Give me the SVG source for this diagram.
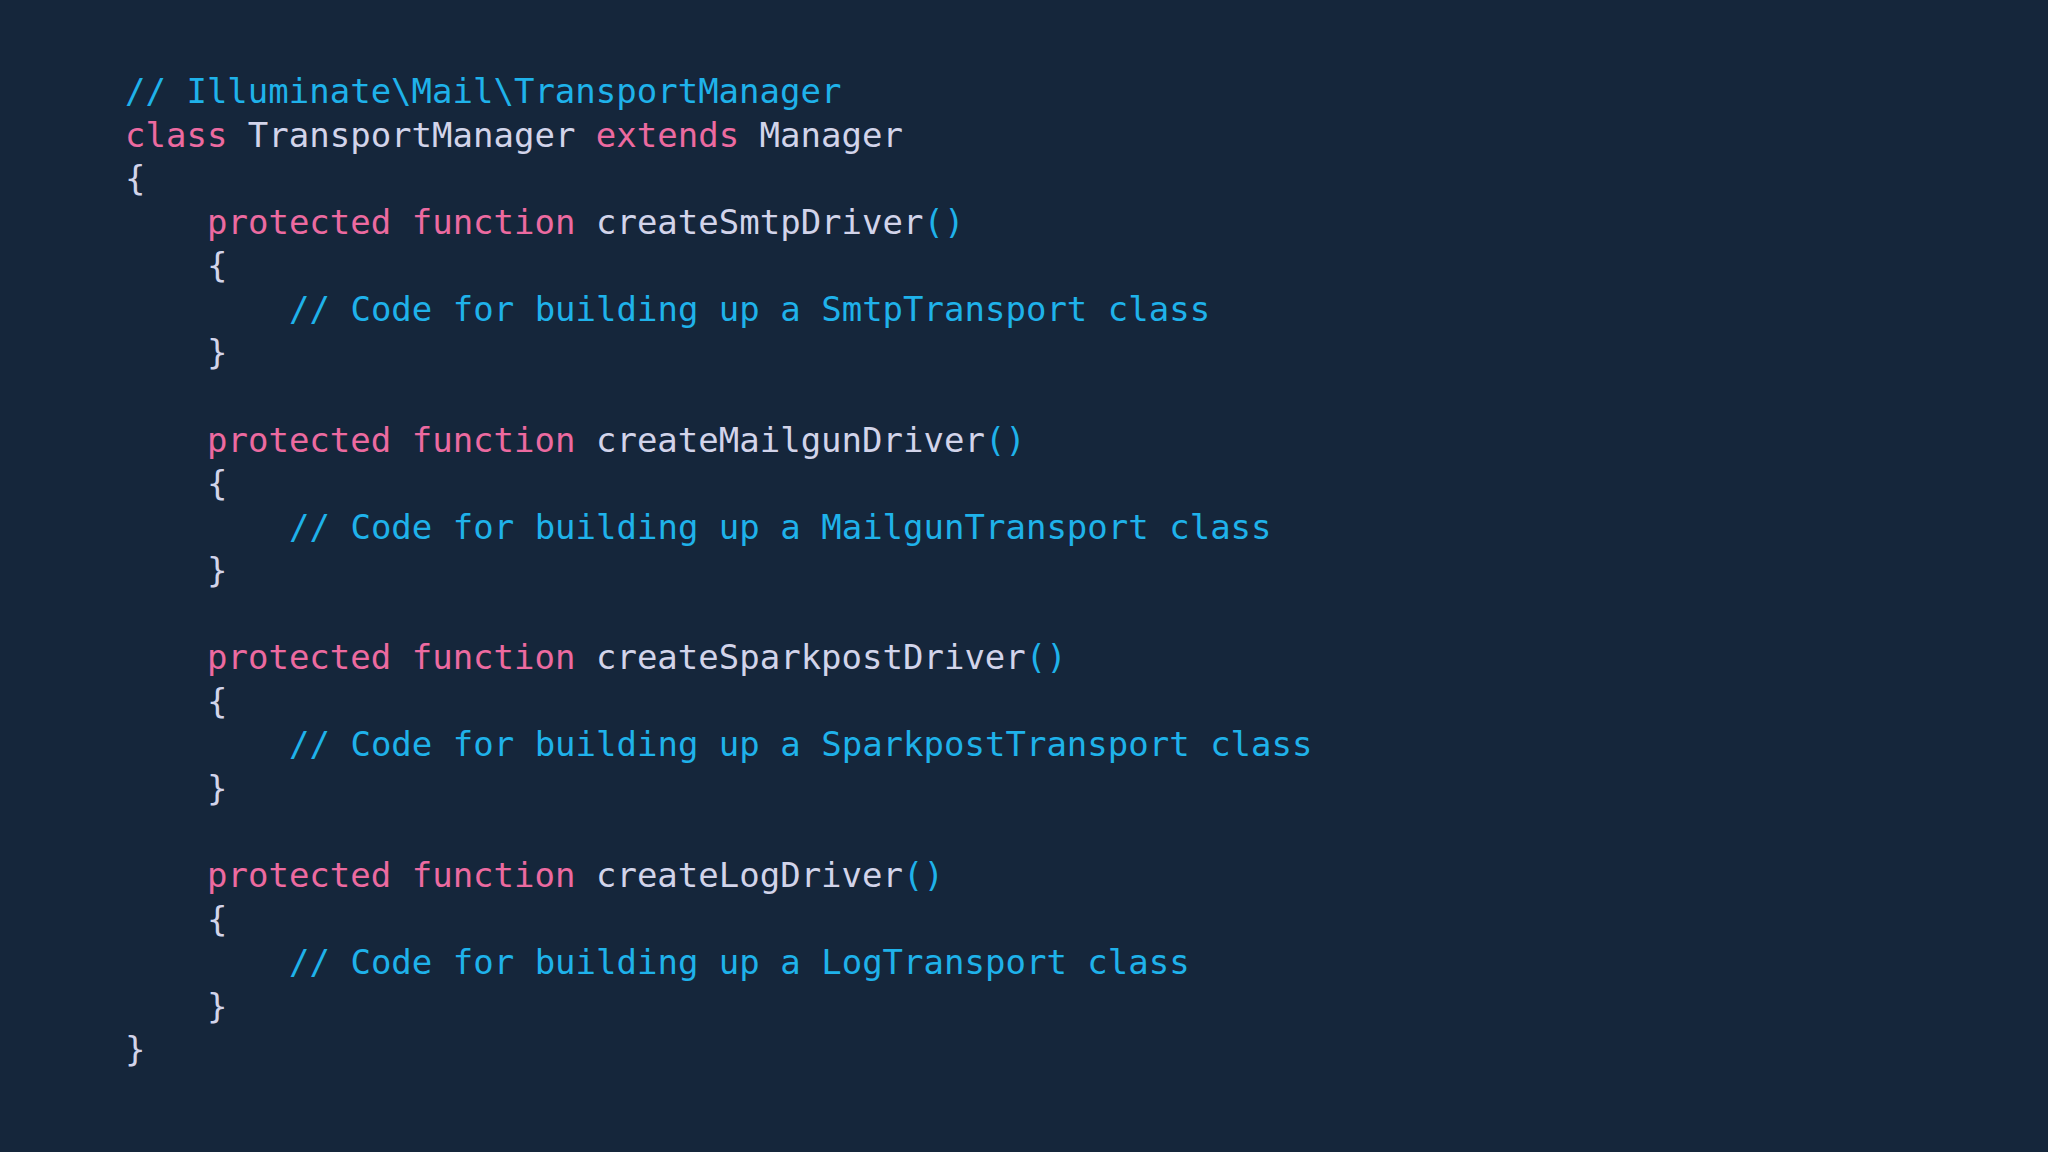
<svg xmlns="http://www.w3.org/2000/svg" width="2048" height="1152" viewBox="0 0 2048 1152">
<style>
text{font-family:"DejaVu Sans Mono","Liberation Mono",monospace;font-size:34px;white-space:pre;fill:#d2d4ea}
.c{fill:#1fb2ea}.k{fill:#ec6aa0}.p{fill:#1fb2ea}.t{fill:#d2d4ea}
</style>
<rect width="2048" height="1152" fill="#15263b"/>
<g id="code">
<text x="125" y="103" class="c">// Illuminate\Mail\TransportManager</text>
<text x="125" y="147"><tspan class="k">class</tspan> TransportManager <tspan class="k">extends</tspan> Manager</text>
<text x="125" y="190">{</text>
<text x="207" y="234"><tspan class="k">protected function</tspan> createSmtpDriver<tspan class="p">()</tspan></text>
<text x="207" y="277">{</text>
<text x="289" y="321" class="c">// Code for building up a SmtpTransport class</text>
<text x="207" y="364">}</text>
<text x="207" y="452"><tspan class="k">protected function</tspan> createMailgunDriver<tspan class="p">()</tspan></text>
<text x="207" y="495">{</text>
<text x="289" y="539" class="c">// Code for building up a MailgunTransport class</text>
<text x="207" y="582">}</text>
<text x="207" y="669"><tspan class="k">protected function</tspan> createSparkpostDriver<tspan class="p">()</tspan></text>
<text x="207" y="713">{</text>
<text x="289" y="756" class="c">// Code for building up a SparkpostTransport class</text>
<text x="207" y="800">}</text>
<text x="207" y="887"><tspan class="k">protected function</tspan> createLogDriver<tspan class="p">()</tspan></text>
<text x="207" y="931">{</text>
<text x="289" y="974" class="c">// Code for building up a LogTransport class</text>
<text x="207" y="1018">}</text>
<text x="125" y="1061">}</text>
</g>
</svg>
